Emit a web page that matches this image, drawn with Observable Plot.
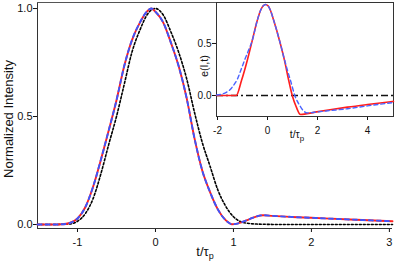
<!DOCTYPE html>
<html><head><meta charset="utf-8">
<script src="https://cdn.jsdelivr.net/npm/d3@7"></script>
<script src="https://cdn.jsdelivr.net/npm/@observablehq/plot@0.6"></script>
<style>
html,body{margin:0;padding:0;background:#fff;}
#chart{position:relative;width:395px;height:262px;overflow:hidden;font-family:"Liberation Sans",Arial,sans-serif;}
#chart svg{position:absolute;top:0;}
</style></head><body><div id="chart"></div>
<script>
// ---- main panel data: normalized intensity vs t/tau_p ----
const tGauss = [-1.513,-1.3,-1.2,-1.1,-1.0,-0.9,-0.8,-0.7,-0.6,-0.5,-0.4,-0.3,-0.2,-0.1,0,0.1,0.2,0.3,0.4,0.5,0.6,0.7,0.8,0.9,1.0,1.1,1.2,1.3,1.4,1.6,2.0,2.5,3.04];
const vGauss = [0,0,0.001,0.003,0.015,0.05,0.12,0.235,0.37,0.5,0.65,0.8,0.9,0.975,1.0,0.97,0.89,0.795,0.675,0.52,0.38,0.27,0.16,0.085,0.036,0.012,0.005,0.002,0.001,0,0,0,0];
const tPulse = [-1.513,-1.3,-1.2,-1.1,-1.0,-0.9,-0.8,-0.7,-0.6,-0.5,-0.4,-0.3,-0.2,-0.1,-0.05,0,0.1,0.2,0.3,0.4,0.5,0.6,0.7,0.8,0.9,0.95,0.98,1.05,1.1,1.2,1.3,1.38,1.5,1.75,2.0,2.5,3.04];
const vPulse = [0,0,0.001,0.007,0.028,0.08,0.175,0.30,0.435,0.575,0.735,0.855,0.935,0.99,1.0,0.985,0.935,0.84,0.73,0.585,0.40,0.25,0.15,0.07,0.02,0.006,0.001,0.004,0.01,0.024,0.038,0.043,0.04,0.035,0.031,0.023,0.015];
const xTicksMain = [-1,0,1,2,3];
const yTicksMain = [0,0.5,1];

// ---- inset data: field e(l,t) ----
const tFieldRed = [-2.04,-1.5,-1.25,-1.04,-0.81,-0.61,-0.41,-0.28,-0.17,-0.08,0.02,0.12,0.25,0.48,0.68,0.85,0.99,1.15,1.32,1.9,2.5,3.2,4.0,5.04];
const vFieldRed = [0,0,0,0.144,0.337,0.529,0.721,0.817,0.862,0.875,0.862,0.817,0.721,0.529,0.337,0.144,0,-0.11,-0.183,-0.16,-0.137,-0.112,-0.087,-0.057];
const tFieldBlue = [-2.04,-1.8,-1.65,-1.5,-1.39,-1.2,-1.04,-0.9,-0.75,-0.61,-0.41,-0.28,-0.17,-0.08,0.02,0.12,0.25,0.48,0.68,0.8,0.92,1.1,1.3,1.45,1.59,2.0,2.5,3.2,4.0,5.04];
const vFieldBlue = [0.005,0.015,0.03,0.055,0.087,0.16,0.26,0.35,0.44,0.529,0.721,0.817,0.862,0.875,0.862,0.817,0.721,0.529,0.345,0.24,0.144,-0.005,-0.1,-0.15,-0.167,-0.158,-0.145,-0.127,-0.1,-0.067];
const xTicksInset = [-2,0,2,4];
const yTicksInset = [0,0.5];

const xDomMain = [-1.513, 3.04], yDomMain = [-0.0185, 1.028];
const xDomIn = [-2.04, 5.04], yDomIn = [-0.202, 0.894];

const zip = (ts, vs) => ts.map((t, i) => ({t, v: vs[i]}));
const gauss = zip(tGauss, vGauss), pulse = zip(tPulse, vPulse);
const fRed = zip(tFieldRed, vFieldRed), fBlue = zip(tFieldBlue, vFieldBlue);
const FONT = '"Liberation Sans", Arial, sans-serif';
const RED = "#ff1e1e", BLUE = "#3a55ff";

const main = Plot.plot({
  width: 395, height: 262, marginLeft: 37, marginRight: 3, marginTop: 2, marginBottom: 34,
  style: {fontFamily: FONT, fontSize: "11px", color: "#111", background: "transparent", overflow: "visible"},
  x: {domain: xDomMain, ticks: xTicksMain, tickFormat: d => String(d), tickSize: 4, tickPadding: 6, label: null},
  y: {domain: yDomMain, ticks: yTicksMain, tickFormat: d3.format(".1f"), tickSize: 4, tickPadding: 1, label: null},
  marks: [
    Plot.ruleX([xDomMain[0]], {stroke: "#333"}),
    Plot.ruleY([yDomMain[0]], {stroke: "#333"}),
    Plot.ruleY([yDomMain[1]], {stroke: "#555"}),
    Plot.line(gauss, {x: "t", y: "v", stroke: "#000", strokeWidth: 1.6, strokeDasharray: "2,2", curve: "monotone-x"}),
    Plot.line(pulse, {x: "t", y: "v", stroke: RED, strokeWidth: 1.9, curve: "monotone-x"}),
    Plot.line(pulse, {x: "t", y: "v", stroke: BLUE, strokeWidth: 1.9, strokeDasharray: "4,4", curve: "monotone-x"})
  ]
});
main.style.left = "0px";
document.getElementById("chart").appendChild(main);

const ms = d3.select(main);
ms.append("text").attr("transform", "translate(13,119) rotate(-90)")
  .attr("text-anchor", "middle").attr("font-size", 13).attr("fill", "#111")
  .text("Normalized Intensity");
const xl = ms.append("text").attr("x", 205).attr("y", 256).attr("font-size", 13).attr("fill", "#111");
xl.append("tspan").text("t/τ");
xl.append("tspan").attr("font-size", 9).attr("dy", 3).text("p");

const inset = Plot.plot({
  width: 215, height: 145, marginLeft: 36, marginRight: 2, marginTop: 2, marginBottom: 29,
  style: {fontFamily: FONT, fontSize: "10px", color: "#111", background: "transparent", overflow: "visible"},
  x: {domain: xDomIn, ticks: xTicksInset, tickFormat: d => String(d), tickSize: 4, tickPadding: 6, label: null},
  y: {domain: yDomIn, ticks: yTicksInset, tickFormat: d3.format(".1f"), tickSize: 4, tickPadding: 1, label: null},
  marks: [
    Plot.frame({stroke: "#333"}),
    Plot.ruleY([0], {stroke: "#111", strokeWidth: 1.3, strokeDasharray: "7,3,2,3"}),
    Plot.line(fRed, {x: "t", y: "v", stroke: RED, strokeWidth: 1.6, curve: "monotone-x"}),
    Plot.line(fBlue, {x: "t", y: "v", stroke: "#4a63ff", strokeWidth: 1.4, strokeDasharray: "4,3", curve: "monotone-x"})
  ]
});
inset.style.left = "180px";
document.getElementById("chart").appendChild(inset);

const is = d3.select(inset);
is.append("text").attr("transform", "translate(28,66) rotate(-90)")
  .attr("text-anchor", "middle").attr("font-size", 11).attr("fill", "#111")
  .text("e(l,t)");
const il = is.append("text").attr("x", 117).attr("y", 138).attr("font-size", 10.5).attr("fill", "#111");
il.append("tspan").text("t/τ");
il.append("tspan").attr("font-size", 8).attr("dy", 3).text("p");
</script></body></html>
